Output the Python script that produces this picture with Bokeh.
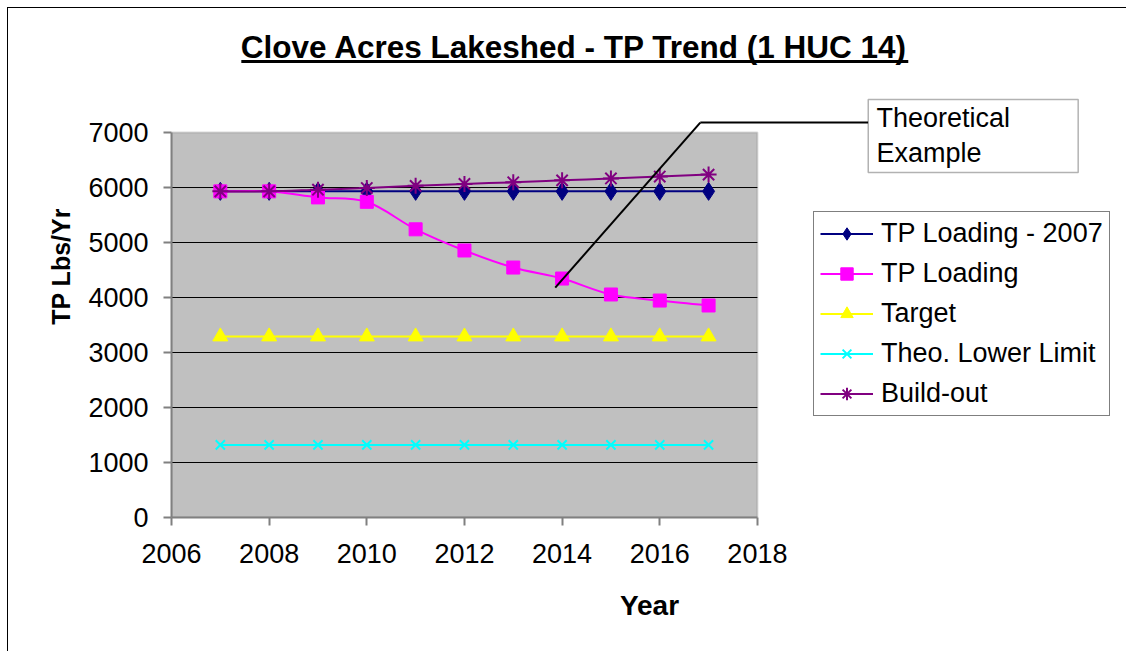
from bokeh.plotting import figure
from bokeh.embed import file_html
from bokeh.resources import INLINE
from bokeh.models import (Legend, LegendItem, Label, BoxAnnotation,
                          FixedTicker, ColumnDataSource)

years = [2007, 2008, 2009, 2010, 2011, 2012, 2013, 2014, 2015, 2016, 2017]
tp_2007 = [5930] * 11
tp_loading = [5930, 5930, 5820, 5740, 5240, 4855, 4545, 4345, 4055, 3945, 3855]
target = [3290] * 11
lower_limit = [1320] * 11
build_out = [5930, 5930, 5960, 5990, 6030, 6065, 6095, 6130, 6165, 6200, 6235]

x_ticks = [2006, 2008, 2010, 2012, 2014, 2016, 2018]
y_ticks = [0, 1000, 2000, 3000, 4000, 5000, 6000, 7000]
X_MIN, X_MAX = 2006, 2018
Y_MIN, Y_MAX = 0, 7000

series = [
    ("TP Loading - 2007", tp_2007, "#000080", "diamond", 18),
    ("TP Loading", tp_loading, "#FF00FF", "square", 13),
    ("Target", target, "#FFFF00", "triangle", 15),
    ("Theo. Lower Limit", lower_limit, "#00FFFF", "x", 13),
    ("Build-out", build_out, "#800080", "asterisk", 16),
]

FONT = "Liberation Sans"

p = figure(width=1119, height=644, output_backend="svg", toolbar_location=None,
           x_range=(2006, 2025.58), y_range=(0, 9255),
           styles={"margin-left": "7px", "margin-top": "7px",
                   "border-left": "1px solid black", "border-top": "1px solid black"})
p.min_border_left = 163
p.min_border_right = 0
p.min_border_top = 0
p.min_border_bottom = 135
p.background_fill_color = "white"
p.border_fill_color = "white"
p.outline_line_color = None
p.grid.visible = False

# plot area
p.add_layout(BoxAnnotation(left=X_MIN, right=X_MAX, bottom=Y_MIN, top=Y_MAX,
                           fill_color="#C0C0C0", fill_alpha=1, line_color="#808080",
                           line_width=2, level="underlay"))
p.segment(x0=[X_MIN] * (len(y_ticks) - 2), x1=[X_MAX] * (len(y_ticks) - 2),
          y0=y_ticks[1:-1], y1=y_ticks[1:-1], line_color="black", line_width=1)

p.xaxis.ticker = FixedTicker(ticks=x_ticks)
p.yaxis.ticker = FixedTicker(ticks=y_ticks)
p.xaxis.bounds = (X_MIN, X_MAX)
p.yaxis.bounds = (Y_MIN, Y_MAX)
for ax in (p.xaxis[0], p.yaxis[0]):
    ax.major_label_text_font = FONT
    ax.major_label_text_font_size = "27px"
    ax.major_label_text_color = "black"
    ax.axis_line_color = "#808080"
    ax.axis_line_width = 2
    ax.major_tick_line_color = "#808080"
    ax.major_tick_line_width = 2
    ax.major_tick_in = 0
    ax.major_tick_out = 8
    ax.minor_tick_line_color = None
    ax.axis_label_text_font = FONT
    ax.axis_label_text_font_style = "bold"
    ax.axis_label_text_color = "black"

p.xaxis.axis_label = "Year"
p.xaxis.axis_label_text_font_size = "28px"
p.xaxis.axis_label_standoff = 24
p.xaxis.major_label_standoff = 18
p.yaxis.axis_label = "TP  Lbs/Yr"
p.yaxis.axis_label_text_font_size = "25px"
p.yaxis.axis_label_standoff = 10
p.yaxis.major_label_standoff = 15


def smooth_segments(xs, ys):
    n = len(xs)
    x0, y0, x1, y1, cx0, cy0, cx1, cy1 = ([] for _ in range(8))
    for i in range(n - 1):
        xp = xs[i - 1] if i > 0 else xs[i]
        yp = ys[i - 1] if i > 0 else ys[i]
        xn = xs[i + 2] if i + 2 < n else xs[i + 1]
        yn = ys[i + 2] if i + 2 < n else ys[i + 1]
        x0.append(xs[i]); y0.append(ys[i])
        x1.append(xs[i + 1]); y1.append(ys[i + 1])
        cx0.append(xs[i] + (xs[i + 1] - xp) / 6.0)
        cy0.append(ys[i] + (ys[i + 1] - yp) / 6.0)
        cx1.append(xs[i + 1] - (xn - xs[i]) / 6.0)
        cy1.append(ys[i + 1] - (yn - ys[i]) / 6.0)
    return dict(x0=x0, y0=y0, x1=x1, y1=y1, cx0=cx0, cy0=cy0, cx1=cx1, cy1=cy1)


items = []
for label, vals, color, marker, size in series:
    src = ColumnDataSource(smooth_segments(years, vals))
    br = p.bezier(x0="x0", y0="y0", x1="x1", y1="y1", cx0="cx0", cy0="cy0",
                  cx1="cx1", cy1="cy1", source=src, line_color=color, line_width=2)
    if marker in ("x", "asterisk"):
        sr = p.scatter(years, vals, marker=marker, size=size, line_color=color,
                       line_width=2, fill_color=None)
    else:
        sr = p.scatter(years, vals, marker=marker, size=size, line_color=color,
                       fill_color=color)
    items.append(LegendItem(label=label, renderers=[br, sr]))

legend = Legend(items=items, location=(642, 101))
legend.label_text_font = FONT
legend.label_text_font_size = "27px"
legend.label_text_color = "black"
legend.border_line_color = "black"
legend.border_line_width = 1
legend.background_fill_color = "white"
legend.background_fill_alpha = 1
legend.glyph_width = 53
legend.glyph_height = 31
legend.label_height = 31
legend.spacing = 9
legend.padding = 6
legend.margin = 0
legend.label_standoff = 8
p.add_layout(legend, "center")

# Callout
p.segment(x0=[2013.86, 2016.83], y0=[4180, 7180], x1=[2016.83, 2020.27], y1=[7180, 7180],
          line_color="black", line_width=2)
p.add_layout(BoxAnnotation(left=2020.27, right=2024.57, bottom=6273, top=7600,
                           fill_color="white", fill_alpha=1, line_color="black",
                           line_width=1.5))
for txt, yv in (("Theoretical", 7264), ("Example", 6627)):
    p.add_layout(Label(x=2020.44, y=yv, text=txt, text_font=FONT,
                       text_font_size="27px", text_color="black",
                       text_baseline="middle"))

# Title with underline
p.add_layout(Label(x=2014.25, y=8564, text="Clove Acres Lakeshed - TP Trend (1 HUC 14)",
                   text_font=FONT, text_font_size="31.5px", text_font_style="bold",
                   text_color="black", text_align="center", text_baseline="middle"))
p.segment(x0=[2007.43], x1=[2021.09], y0=[8290], y1=[8290], line_color="black", line_width=3)

open("out.html", "w").write(file_html(p, INLINE))
